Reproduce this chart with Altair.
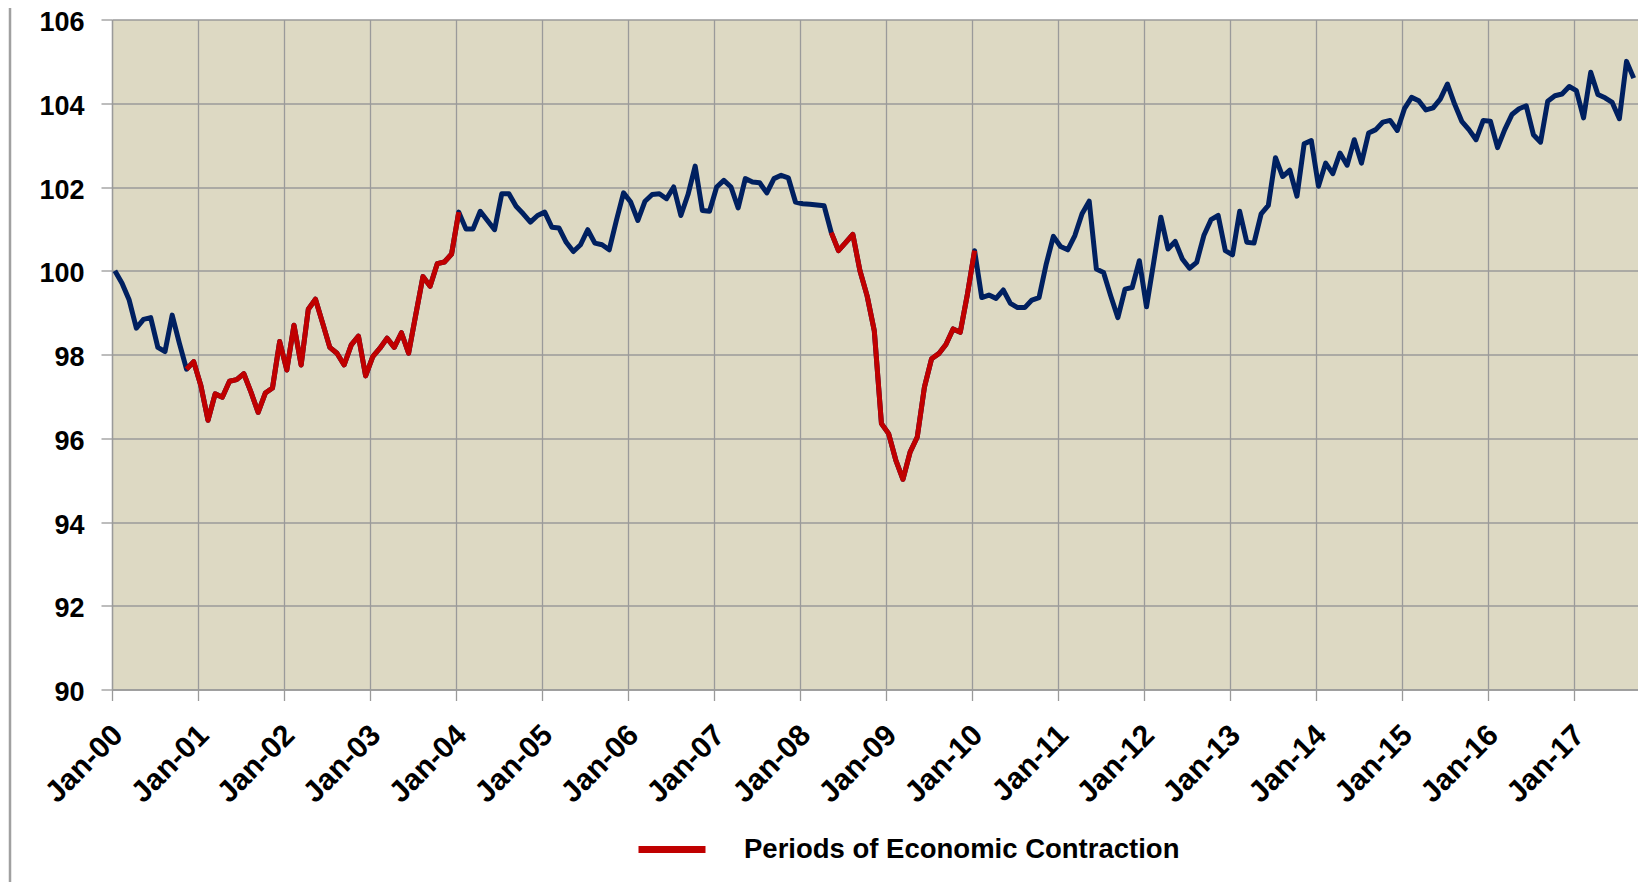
import json
import altair as alt
import pandas as pd

# ---- data (monthly index, Jan-00 .. Sep-17) ----
index_values = [
    100.00, 99.70, 99.30, 98.63, 98.84, 98.88, 98.17, 98.07, 98.94, 98.27, 97.65, 97.83,   # 2000
    97.26, 96.43, 97.06, 96.98, 97.36, 97.40, 97.54, 97.10, 96.62, 97.08, 97.20, 98.31,    # 2001
    97.63, 98.70, 97.75, 99.08, 99.32, 98.75, 98.17, 98.03, 97.75, 98.23, 98.44, 97.49,    # 2002
    97.95, 98.15, 98.39, 98.17, 98.52, 98.03, 98.95, 99.86, 99.63, 100.17, 100.21, 100.40, # 2003
    101.40, 101.00, 101.00, 101.42, 101.20, 100.98, 101.84, 101.84, 101.54, 101.36, 101.16, 101.32,  # 2004
    101.40, 101.04, 101.02, 100.68, 100.46, 100.62, 100.98, 100.66, 100.62, 100.50, 101.20, 101.86,  # 2005
    101.64, 101.20, 101.66, 101.82, 101.84, 101.72, 102.00, 101.32, 101.82, 102.50, 101.44, 101.42,  # 2006
    102.00, 102.16, 102.00, 101.50, 102.20, 102.12, 102.10, 101.86, 102.20, 102.28, 102.22, 101.64,  # 2007
    101.60, 101.59, 101.57, 101.55, 100.91, 100.48, 100.67, 100.87, 100.00, 99.40, 98.57, 96.35,     # 2008
    96.11, 95.48, 95.02, 95.67, 96.03, 97.22, 97.90, 98.02, 98.24, 98.61, 98.53, 99.44,              # 2009
    100.48, 99.36, 99.42, 99.34, 99.54, 99.22, 99.12, 99.12, 99.30, 99.36, 100.16, 100.82,           # 2010
    100.58, 100.50, 100.84, 101.36, 101.66, 100.04, 99.96, 99.40, 98.88, 99.56, 99.60, 100.24,       # 2011
    99.14, 100.20, 101.28, 100.52, 100.70, 100.28, 100.06, 100.20, 100.84, 101.22, 101.32, 100.48,   # 2012
    100.38, 101.42, 100.68, 100.66, 101.36, 101.56, 102.70, 102.25, 102.40, 101.78, 103.03, 103.11,  # 2013
    102.02, 102.57, 102.32, 102.81, 102.52, 103.13, 102.57, 103.29, 103.37, 103.55, 103.59, 103.35,  # 2014
    103.87, 104.14, 104.06, 103.84, 103.89, 104.10, 104.46, 103.98, 103.57, 103.37, 103.13, 103.59,  # 2015
    103.57, 102.94, 103.37, 103.73, 103.87, 103.94, 103.25, 103.07, 104.05, 104.18, 104.22, 104.40,  # 2016
    104.30, 103.65, 104.74, 104.21, 104.13, 104.02, 103.63, 105.00, 104.60,                          # 2017
]

month_names = ["Jan", "Feb", "Mar", "Apr", "May", "Jun",
               "Jul", "Aug", "Sep", "Oct", "Nov", "Dec"]
first_year = 0  # two-digit year of the first month (2000)

# contraction periods (first and last month, inclusive)
contraction_periods = [("Nov-00", "Jan-04"), ("May-08", "Jan-10")]
legend_label = "Periods of Economic Contraction"

year_tick_labels = ["Jan-%02d" % y for y in range(0, 18)]
y_ticks = [90, 92, 94, 96, 98, 100, 102, 104, 106]

# ---- build tables ----
month_labels = ["%s-%02d" % (month_names[i % 12], first_year + i // 12)
                for i in range(len(index_values))]
df = pd.DataFrame({
    "m": list(range(len(index_values))),
    "label": month_labels,
    "value": index_values,
})
df["x"] = df["m"] + 0.4

rows = []
for pid, (a, b) in enumerate(contraction_periods):
    ia, ib = month_labels.index(a), month_labels.index(b)
    part = df.iloc[ia:ib + 1].copy()
    part["period"] = "p%d" % pid
    part["series"] = legend_label
    rows.append(part)
red_df = pd.concat(rows, ignore_index=True)

FONT = "Liberation Sans"
GRID = "#9A9A9A"
LINE_W = 5

x_enc = alt.X(
    "x:Q",
    scale=alt.Scale(domain=[0, 213], nice=False, zero=False),
    axis=alt.Axis(
        values=[12 * i for i in range(len(year_tick_labels))],
        labelExpr=json.dumps(year_tick_labels) + "[round(datum.value / 12)]",
        labelAngle=-45,
        labelFontSize=30,
        labelFontWeight="bold",
        labelFont=FONT,
        labelColor="#000000",
        labelPadding=19,
        labelOffset=-5,
        tickSize=11,
        tickColor=GRID,
        tickWidth=1.3,
        domainColor=GRID,
        domainWidth=1.3,
        grid=True,
        gridColor=GRID,
        gridWidth=1.3,
        labelOverlap=False,
        title=None,
    ),
)
y_enc = alt.Y(
    "value:Q",
    scale=alt.Scale(domain=[90, 106], nice=False, zero=False),
    axis=alt.Axis(
        values=y_ticks,
        labelFontSize=27,
        labelFontWeight="bold",
        labelFont=FONT,
        labelColor="#000000",
        labelPadding=17,
        labelOffset=3,
        tickSize=11,
        tickColor=GRID,
        tickWidth=1.3,
        domainColor=GRID,
        domainWidth=1.3,
        grid=True,
        gridColor=GRID,
        gridWidth=1.3,
        title=None,
    ),
)

blue = alt.Chart(df).mark_line(
    color="#002060", strokeWidth=LINE_W, strokeJoin="round"
).encode(x=x_enc, y=y_enc)

red = alt.Chart(red_df).mark_line(
    strokeWidth=LINE_W, strokeJoin="round"
).encode(
    x=alt.X("x:Q"),
    y=alt.Y("value:Q"),
    detail="period:N",
    color=alt.Color(
        "series:N",
        scale=alt.Scale(domain=[legend_label], range=["#C00000"]),
        legend=alt.Legend(
            orient="none",
            legendX=523,
            legendY=793,
            title=None,
            padding=0,
            symbolType="stroke",
            symbolSize=4489,
            symbolStrokeWidth=7,
            labelFont=FONT,
            labelFontSize=27.5,
            labelFontWeight="bold",
            labelColor="#000000",
            labelOffset=35,
            labelLimit=0,
        ),
    ),
)

# chart-area frame line on the far left of the picture
frame = alt.Chart(df.head(1)).mark_rule(color="#A0A0A0", strokeWidth=2.5).encode(
    x=alt.value(-102), y=alt.value(-20), y2=alt.value(900)
)

chart = alt.layer(blue, red, frame).properties(
    width=1526,
    height=670,
    padding={"left": 104, "top": 11.5, "right": 0, "bottom": 192},
    autosize=alt.AutoSizeParams(type="none"),
    background="#FFFFFF",
).configure_view(
    fill="#DDD9C3",
    stroke="transparent",
)

chart.save("out.html", embed_options={"renderer": "svg", "actions": False})
